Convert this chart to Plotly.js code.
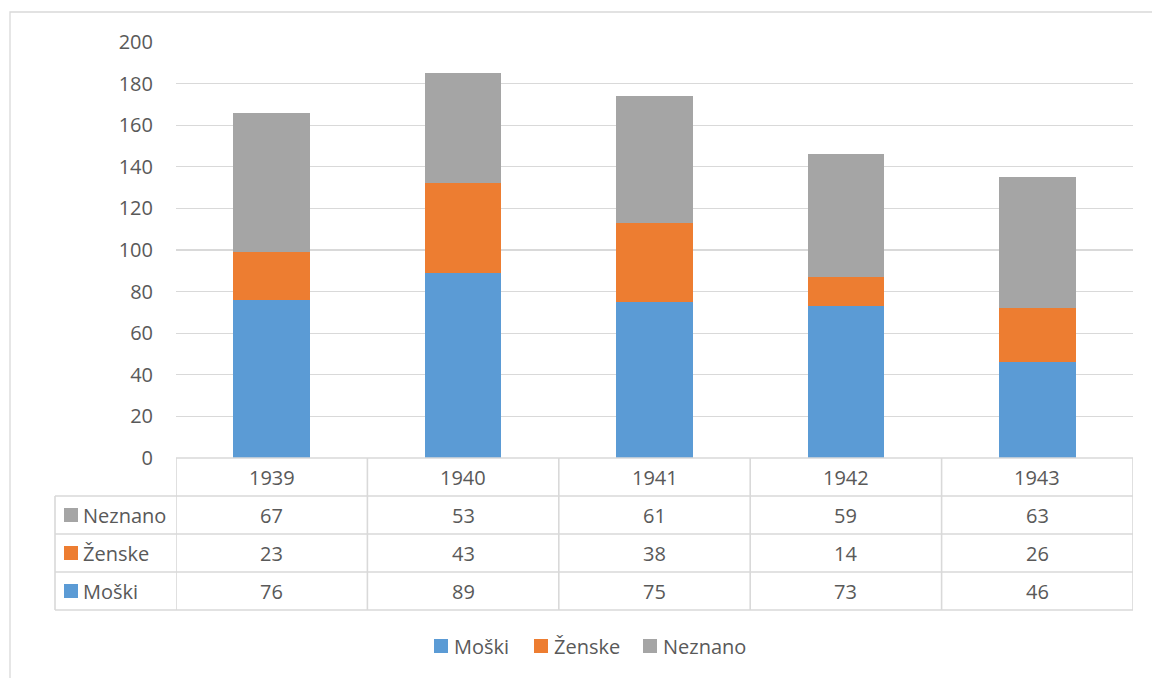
<!DOCTYPE html>
<html>
<head>
<meta charset="utf-8">
<script src="https://cdn.plot.ly/plotly-3.0.1.min.js"></script>
<style>html,body{margin:0;padding:0;background:#fff;}#chart{width:1152px;height:678px;}</style>
</head>
<body>
<div id="chart"></div>
<script>
const years = ['1939', '1940', '1941', '1942', '1943'];
const moski = [76, 89, 75, 73, 46];
const zenske = [23, 43, 38, 14, 26];
const neznano = [67, 53, 61, 59, 63];
const seriesNames = ['Moški', 'Ženske', 'Neznano'];
const seriesColors = ['#5B9BD5', '#ED7D31', '#A5A5A5'];
const yTicks = [0, 20, 40, 60, 80, 100, 120, 140, 160, 180, 200];

const W = 1152, H = 678;
const L = 176, R = 1133, T = 42, B = 458;
const FONT = 'Open Sans, Liberation Sans, sans-serif';
const TXT = '#595959';
const LINE = '#d9d9d9';
const FS = 20;

function px2py(p) { return (B - p) / (B - T); }
function px2px(p) { return (p - L) / (R - L); }

const seriesData = [moski, zenske, neznano];
const traces = seriesData.map((d, i) => ({
  type: 'bar', x: years, y: d, name: seriesNames[i],
  marker: {color: seriesColors[i]}, hoverinfo: 'x+y+name'
}));

// table rows: header, Neznano, Ženske, Moški (top to bottom)
const rowEdges = [458, 496, 534, 572, 610];
const tableRows = [
  {label: 'Neznano', color: seriesColors[2], data: neznano},
  {label: 'Ženske', color: seriesColors[1], data: zenske},
  {label: 'Moški', color: seriesColors[0], data: moski}
];

const shapes = [];
const annotations = [];
const lw = 1.6;
// outer chart frame
shapes.push({type: 'rect', xref: 'paper', yref: 'paper', x0: px2px(10), x1: px2px(1300), y0: px2py(900), y1: px2py(12), line: {color: LINE, width: 1.3}, layer: 'below'});
// horizontal table lines
rowEdges.forEach((p, k) => {
  shapes.push({type: 'line', xref: 'paper', yref: 'paper', x0: k === 0 ? 0 : px2px(55), x1: 1, y0: px2py(p), y1: px2py(p), line: {color: LINE, width: lw}});
});
// vertical lines
for (let i = 0; i <= years.length; i++) {
  shapes.push({type: 'line', xref: 'x', yref: 'paper', x0: i - 0.5, x1: i - 0.5, y0: px2py(458), y1: px2py(610), line: {color: LINE, width: lw}});
}
shapes.push({type: 'line', xref: 'paper', yref: 'paper', x0: px2px(55), x1: px2px(55), y0: px2py(496), y1: px2py(610), line: {color: LINE, width: lw}});

// header years
years.forEach((y, i) => {
  annotations.push({xref: 'x', yref: 'paper', x: i, y: px2py((rowEdges[0] + rowEdges[1]) / 2), text: y, showarrow: false, font: {family: FONT, size: FS, color: TXT}, xanchor: 'center', yanchor: 'middle'});
});
tableRows.forEach((row, r) => {
  const cy = (rowEdges[r + 1] + rowEdges[r + 2]) / 2;
  shapes.push({type: 'rect', xref: 'paper', yref: 'paper', x0: px2px(64), x1: px2px(78), y0: px2py(cy + 7), y1: px2py(cy - 7), fillcolor: row.color, line: {width: 0}});
  annotations.push({xref: 'paper', yref: 'paper', x: px2px(81), y: px2py(cy), text: row.label, showarrow: false, font: {family: FONT, size: FS, color: TXT}, xanchor: 'left', yanchor: 'middle'});
  row.data.forEach((v, i) => {
    annotations.push({xref: 'x', yref: 'paper', x: i, y: px2py(cy), text: String(v), showarrow: false, font: {family: FONT, size: FS, color: TXT}, xanchor: 'center', yanchor: 'middle'});
  });
});

// bottom legend (drawn manually to match spacing)
const legendX = [434, 534, 643];
const legendY = 646;
seriesNames.forEach((n, i) => {
  shapes.push({type: 'rect', xref: 'paper', yref: 'paper', x0: px2px(legendX[i]), x1: px2px(legendX[i] + 14), y0: px2py(legendY + 7), y1: px2py(legendY - 7), fillcolor: seriesColors[i], line: {width: 0}});
  annotations.push({xref: 'paper', yref: 'paper', x: px2px(legendX[i] + 18), y: px2py(legendY), text: n, showarrow: false, font: {family: FONT, size: FS, color: TXT}, xanchor: 'left', yanchor: 'middle'});
});

const layout = {
  width: W, height: H,
  margin: {l: L, r: W - R, t: T, b: H - B, pad: 0},
  paper_bgcolor: '#fff', plot_bgcolor: '#fff',
  barmode: 'stack', bargap: 0.6,
  showlegend: false,
  xaxis: {type: 'category', range: [-0.5, 4.5], showticklabels: false, showgrid: false, zeroline: false, showline: false, ticks: '', fixedrange: true},
  yaxis: {range: [0, 200], tickvals: yTicks, ticktext: yTicks.map(String), showgrid: true, gridcolor: LINE, gridwidth: 1.3, zeroline: false, showline: false, ticks: '', ticklabelstandoff: 22, tickfont: {family: FONT, size: FS, color: TXT}, fixedrange: true},
  shapes: shapes, annotations: annotations
};
Plotly.newPlot('chart', traces, layout, {displayModeBar: false, staticPlot: true});
</script>
</body>
</html>
